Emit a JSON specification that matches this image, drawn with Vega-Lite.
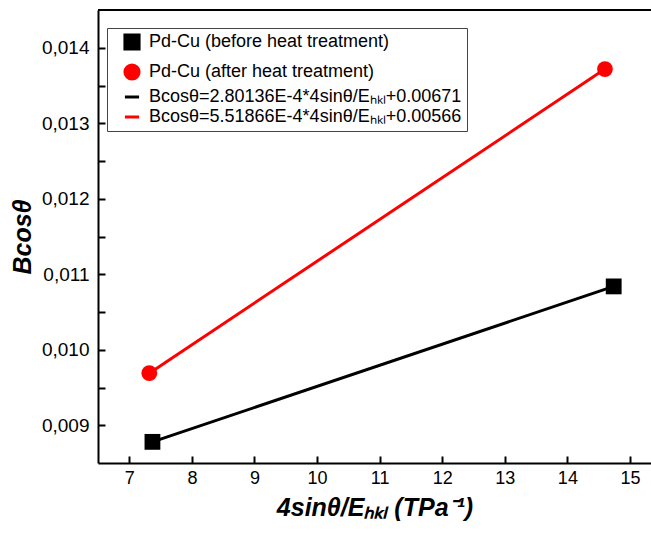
{
  "$schema": "https://vega.github.io/schema/vega-lite/v6.json",
  "width": 553,
  "height": 453,
  "autosize": {"type": "none"},
  "padding": {"left": 98, "top": 10, "right": 0, "bottom": 72},
  "background": "white",
  "config": {
    "view": {"stroke": null},
    "font": "Liberation Sans"
  },
  "data": {
    "values": [
      {"label": "Pd-Cu (before heat treatment)", "kind": "point", "x": 7.37, "y": 0.00878},
      {"label": "Pd-Cu (before heat treatment)", "kind": "point", "x": 14.74, "y": 0.010839},
      {"label": "Pd-Cu (after heat treatment)", "kind": "point", "x": 7.32, "y": 0.00969},
      {"label": "Pd-Cu (after heat treatment)", "kind": "point", "x": 14.6, "y": 0.013717},
      {"label": "Bcosθ=2.80136E-4*4sinθ/Eₕₖₗ+0.00671", "kind": "line", "x": 7.37, "y": 0.00878},
      {"label": "Bcosθ=2.80136E-4*4sinθ/Eₕₖₗ+0.00671", "kind": "line", "x": 14.74, "y": 0.010839},
      {"label": "Bcosθ=5.51866E-4*4sinθ/Eₕₖₗ+0.00566", "kind": "line", "x": 7.32, "y": 0.00969},
      {"label": "Bcosθ=5.51866E-4*4sinθ/Eₕₖₗ+0.00566", "kind": "line", "x": 14.6, "y": 0.013717}
    ]
  },
  "layer": [
    {
      "transform": [{"filter": "datum.kind === 'line'"}],
      "mark": {"type": "line", "strokeWidth": 3},
      "encoding": {
        "x": {
          "field": "x", "type": "quantitative",
          "scale": {"domain": [6.5, 15.336], "nice": false, "zero": false},
          "axis": {
            "title": "4sinθ/Eₕₖₗ (TPa⁻¹)",
            "titleFont": "Liberation Sans", "titleFontSize": 25, "titleFontWeight": "bold", "titleFontStyle": "italic",
            "titleColor": "black", "titlePadding": 8,
            "values": [7, 7.5, 8, 8.5, 9, 9.5, 10, 10.5, 11, 11.5, 12, 12.5, 13, 13.5, 14, 14.5, 15],
            "labelExpr": "datum.value % 1 === 0 ? format(datum.value, 'd') : ''",
            "labelFont": "Liberation Sans", "labelFontSize": 18, "labelColor": "black", "labelPadding": 13,
            "tickColor": "black", "tickWidth": 2, "tickSize": -7,
            "domainColor": "black", "domainWidth": 2, "grid": false
          }
        },
        "y": {
          "field": "y", "type": "quantitative",
          "scale": {"domain": [0.0085, 0.0145], "nice": false, "zero": false},
          "axis": {
            "title": "Bcosθ",
            "titleFont": "Liberation Sans", "titleFontSize": 25, "titleFontWeight": "bold", "titleFontStyle": "italic",
            "titleColor": "black", "titlePadding": 6,
            "values": [0.009, 0.0095, 0.01, 0.0105, 0.011, 0.0115, 0.012, 0.0125, 0.013, 0.0135, 0.014],
            "labelExpr": "abs(datum.value * 1000 - round(datum.value * 1000)) < 0.000001 ? replace(format(datum.value, '.3f'), '.', ',') : ''",
            "labelFont": "Liberation Sans", "labelFontSize": 19, "labelColor": "black", "labelPadding": 16,
            "tickColor": "black", "tickWidth": 2, "tickSize": -7,
            "domainColor": "black", "domainWidth": 2, "grid": false
          }
        },
        "color": {
          "field": "label", "type": "nominal",
          "scale": {
            "domain": ["Pd-Cu (before heat treatment)", "Pd-Cu (after heat treatment)", "Bcosθ=2.80136E-4*4sinθ/Eₕₖₗ+0.00671", "Bcosθ=5.51866E-4*4sinθ/Eₕₖₗ+0.00566"],
            "range": ["black", "red", "black", "red"]
          },
          "legend": {
            "title": null,
            "orient": "none", "legendX": 9, "legendY": 18,
            "fillColor": "white", "strokeColor": "#444", "padding": 5,
            "labelFont": "Liberation Sans", "labelFontSize": 18, "labelColor": "black", "labelLimit": 0,
            "symbolSize": 200, "symbolStrokeWidth": 3, "symbolOffset": 11, "rowPadding": 2, "labelOffset": 8
          }
        }
      }
    },
    {
      "transform": [{"filter": "datum.kind === 'point'"}],
      "mark": {"type": "point", "filled": true, "opacity": 1, "size": 250},
      "encoding": {
        "x": {"field": "x", "type": "quantitative"},
        "y": {"field": "y", "type": "quantitative"},
        "color": {"field": "label", "type": "nominal"},
        "shape": {
          "field": "label", "type": "nominal",
          "scale": {
            "domain": ["Pd-Cu (before heat treatment)", "Pd-Cu (after heat treatment)", "Bcosθ=2.80136E-4*4sinθ/Eₕₖₗ+0.00671", "Bcosθ=5.51866E-4*4sinθ/Eₕₖₗ+0.00566"],
            "range": ["square", "circle", "stroke", "stroke"]
          }
        }
      }
    },
    {
      "mark": {"type": "rule", "color": "black", "strokeWidth": 2},
      "encoding": {"y": {"datum": 0.0145, "type": "quantitative"}}
    }
  ]
}
